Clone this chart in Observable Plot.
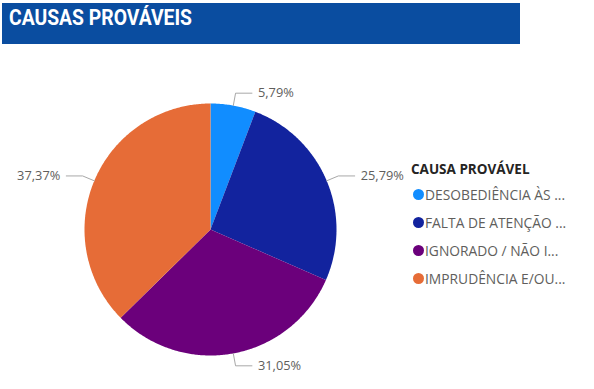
<!DOCTYPE html>
<html>
<head>
<meta charset="utf-8">
<script src="https://cdn.jsdelivr.net/npm/d3@7"></script>
<script src="https://cdn.jsdelivr.net/npm/@observablehq/plot@0.6"></script>
<style>
  html, body { margin: 0; padding: 0; background: #fff; }
  #root { position: relative; width: 594px; height: 389px; overflow: hidden; font-family: "Open Sans", "Noto Sans", sans-serif; }
  #titlebar { position: absolute; left: 2px; top: 3px; width: 518px; height: 41px; background: #0A4DA0; }
  #titlebar svg { display: block; }
  #chart { position: absolute; left: 0; top: 47px; }
  #legend { position: absolute; left: 411px; top: 160px; }
  #legend .lt { font-weight: 700; font-size: 13.5px; color: #252423; line-height: 18px; white-space: nowrap; margin-bottom: 2px; }
  #legend .it { display: flex; align-items: center; height: 28.2px; font-size: 13.8px; color: #605E5C; white-space: nowrap; }
  #legend .dot { width: 11px; height: 11px; border-radius: 50%; margin: 0 1px 0 2px; flex: none; }
</style>
</head>
<body>
<div id="root">
  <div id="titlebar"></div>
  <div id="chart"></div>
  <div id="legend"></div>
</div>
<script>
const titleText = "CAUSAS PROVÁVEIS";
const legendTitle = "CAUSA PROVÁVEL";
const categories = ["DESOBEDIÊNCIA ÀS ...", "FALTA DE ATENÇÃO ...", "IGNORADO / NÃO I...", "IMPRUDÊNCIA E/OU..."];
const values = [5.79, 25.79, 31.05, 37.37];
const valueLabels = ["5,79%", "25,79%", "31,05%", "37,37%"];
const colors = ["#118DFF", "#12239E", "#6B007B", "#E66C37"];

// Title bar
const tsvg = d3.create("svg").attr("width", 518).attr("height", 41);
tsvg.append("text")
  .attr("x", 7).attr("y", 21.5)
  .attr("fill", "#fff")
  .attr("font-family", "Roboto, 'DejaVu Sans', sans-serif")
  .attr("font-weight", 700)
  .attr("font-size", 22.5)
  .attr("textLength", 183)
  .attr("lengthAdjust", "spacingAndGlyphs")
  .text(titleText);
document.getElementById("titlebar").appendChild(tsvg.node());

// Pie geometry from data
const arcs = d3.pie().sort(null)(values);
const poly = [];
const leaders = [];
const labels = [];
arcs.forEach((a, i) => {
  const cat = categories[i];
  poly.push({cat, x: 0, y: 0});
  const n = Math.max(2, Math.ceil((a.endAngle - a.startAngle) / 0.01));
  for (let k = 0; k <= n; k++) {
    const t = a.startAngle + (a.endAngle - a.startAngle) * k / n;
    poly.push({cat, x: Math.sin(t), y: Math.cos(t)});
  }
  poly.push({cat, x: 0, y: 0});
  const m = (a.startAngle + a.endAngle) / 2;
  const s = Math.sin(m) >= 0 ? 1 : -1;
  const ex = 1.1 * Math.sin(m), ey = 1.1 * Math.cos(m);
  leaders.push({cat, x: Math.sin(m), y: Math.cos(m)});
  leaders.push({cat, x: ex, y: ey});
  leaders.push({cat, x: ex + s * 0.13, y: ey});
  labels.push({text: valueLabels[i], x: ex + s * 0.13, y: ey, anchor: s > 0 ? "start" : "end"});
});

const chart = Plot.plot({
  width: 594,
  height: 342,
  marginLeft: 84,
  marginRight: 258,
  marginTop: 56,
  marginBottom: 34,
  x: {domain: [-1, 1], axis: null},
  y: {domain: [-1, 1], axis: null},
  color: {domain: categories, range: colors},
  style: {background: "transparent", overflow: "visible"},
  marks: [
    Plot.line(poly, {x: "x", y: "y", z: "cat", fill: "cat", stroke: null, curve: "linear"}),
    Plot.line(leaders, {x: "x", y: "y", z: "cat", stroke: "#A8A8A8", strokeWidth: 1}),
    Plot.text(labels.filter(d => d.anchor === "start"), {x: "x", y: "y", text: "text", textAnchor: "start", dx: 6, fill: "#605E5C", fontSize: 12.8, fontFamily: "'Open Sans', sans-serif"}),
    Plot.text(labels.filter(d => d.anchor === "end"), {x: "x", y: "y", text: "text", textAnchor: "end", dx: -6, fill: "#605E5C", fontSize: 12.8, fontFamily: "'Open Sans', sans-serif"})
  ]
});
document.getElementById("chart").appendChild(chart);

// Legend
const leg = document.getElementById("legend");
const lt = document.createElement("div");
lt.className = "lt";
lt.textContent = legendTitle;
leg.appendChild(lt);
categories.forEach((c, i) => {
  const it = document.createElement("div");
  it.className = "it";
  const dot = document.createElement("span");
  dot.className = "dot";
  dot.style.background = colors[i];
  const tx = document.createElement("span");
  tx.textContent = c;
  it.appendChild(dot);
  it.appendChild(tx);
  leg.appendChild(it);
});
</script>
</body>
</html>
